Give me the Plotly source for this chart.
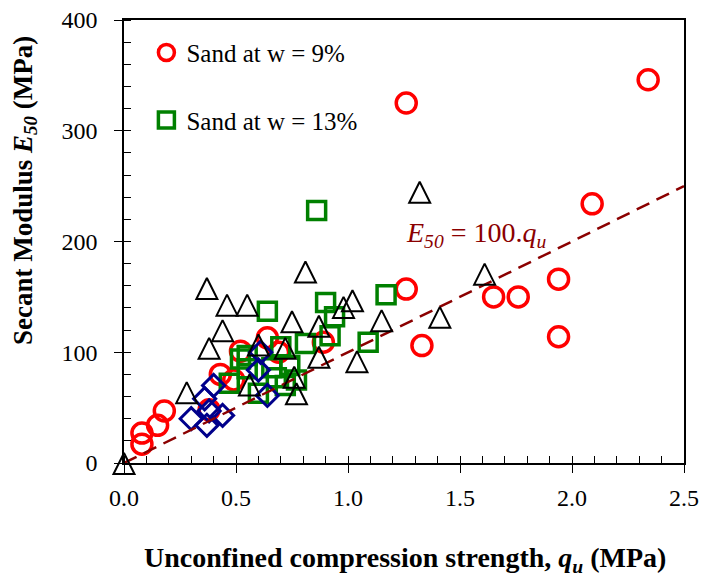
import plotly.graph_objects as go

# ---- data ----
sand9_qu = [0.08, 0.08, 0.15, 0.18, 0.38, 0.43, 0.49, 0.52, 0.64, 0.69, 0.89,
            1.26, 1.26, 1.33, 1.65, 1.76, 1.94, 1.94, 2.09, 2.34]
sand9_E = [27, 17, 34, 47, 48, 80, 75, 101, 113, 100, 109,
           157, 325, 106, 150, 150, 166, 114, 234, 346]

sand13_qu = [0.47, 0.52, 0.55, 0.55, 0.60, 0.64, 0.66, 0.68, 0.70, 0.72, 0.74,
             0.77, 0.81, 0.86, 0.90, 0.92, 0.94, 1.09, 1.17]
sand13_E = [72, 94, 85, 97, 63, 137, 86, 77, 105, 70, 88,
            75, 108, 228, 145, 115, 132, 109, 152]

other_qu = [0.0, 0.28, 0.37, 0.38, 0.44, 0.46, 0.55, 0.56, 0.60, 0.72, 0.75, 0.76,
            0.77, 0.81, 0.87, 0.87, 0.98, 1.02, 1.04, 1.15, 1.32, 1.41, 1.61]
other_E = [0, 64, 158, 104, 120, 143, 143, 71, 107, 104, 128, 78,
           63, 173, 124, 96, 141, 147, 92, 129, 245, 132, 171]

clay_qu = [0.30, 0.36, 0.37, 0.38, 0.40, 0.44, 0.60, 0.61, 0.64]
clay_E = [40, 58, 34, 47, 70, 43, 84, 100, 61]

fit_slope = 100
fit_qu = [0.0, 2.5]
fit_E = [fit_slope * q for q in fit_qu]

x_tickvals = [0.0, 0.5, 1.0, 1.5, 2.0, 2.5]
x_ticktext = ["0.0", "0.5", "1.0", "1.5", "2.0", "2.5"]
y_tickvals = [0, 100, 200, 300, 400]

SERIF = "Liberation Serif"
DARKRED = "#8B0000"

fig = go.Figure()

fig.add_trace(go.Scatter(
    x=sand9_qu, y=sand9_E, mode="markers", name="Sand at w = 9%",
    legendgroup="g1",
    marker=dict(symbol="circle-open", size=20, color="#FF0000",
                line=dict(width=3.5, color="#FF0000")),
    cliponaxis=False))

fig.add_trace(go.Scatter(
    x=sand13_qu, y=sand13_E, mode="markers", name="Sand at w = 13%",
    legendgroup="g2",
    marker=dict(symbol="square-open", size=18, color="#008000",
                line=dict(width=3.5, color="#008000")),
    cliponaxis=False))

fig.add_trace(go.Scatter(
    x=other_qu, y=other_E, mode="markers", name="Other",
    showlegend=False, yaxis="y2",
    marker=dict(symbol="arrow-up-open", size=21, color="black",
                line=dict(width=2, color="black")),
    cliponaxis=False))

fig.add_trace(go.Scatter(
    x=clay_qu, y=clay_E, mode="markers", name="Other 2",
    showlegend=False,
    marker=dict(symbol="diamond-open", size=17, color="#00008B",
                line=dict(width=3, color="#00008B")),
    cliponaxis=False))

fig.add_trace(go.Scatter(
    x=fit_qu, y=fit_E, mode="lines", showlegend=False, name="fit",
    line=dict(color=DARKRED, width=2.5, dash="14px,8px"),
    cliponaxis=False))

fig.add_annotation(
    x=1.575, y=206, xref="x", yref="y",
    text="<i>E</i><sub><i>50</i></sub> = 100.<i>q</i><sub><i>u</i></sub>",
    showarrow=False, font=dict(family=SERIF, size=28, color=DARKRED))

fig.add_annotation(
    x=-0.177, xref="paper", y=0.616, yref="paper",
    xanchor="center", yanchor="middle",
    text="<b>Secant Modulus <i>E</i><sub><i>50</i></sub> (MPa)</b>",
    textangle=-90, showarrow=False,
    font=dict(family=SERIF, size=27, color="black"))

fig.add_annotation(
    x=0.502, xref="paper", y=-0.218, yref="paper",
    xanchor="center", yanchor="middle",
    text="<b>Unconfined compression strength, <i>q</i><sub><i>u</i></sub> (MPa)</b>",
    showarrow=False, font=dict(family=SERIF, size=28, color="black"))

axis_common = dict(showgrid=False, zeroline=False, showline=True, linecolor="black",
                   linewidth=1.5, mirror=True, ticks="outside", ticklen=8,
                   tickcolor="black", tickwidth=1.2, automargin=False,
                   tickfont=dict(family=SERIF, size=24, color="black"))

fig.update_layout(
    width=702, height=581,
    margin=dict(l=124, r=18, t=20, b=118),
    paper_bgcolor="white", plot_bgcolor="white",
    font=dict(family=SERIF, color="black"),
    xaxis=dict(range=[0, 2.5], tickvals=x_tickvals, ticktext=x_ticktext,
               minor=dict(dtick=0.1, ticks="inside", ticklen=7, tickcolor="black",
                          tickwidth=1.2, showgrid=False),
               ticklabelstandoff=4, **axis_common),
    yaxis=dict(range=[0, 400], tickvals=y_tickvals,
               minor=dict(dtick=20, ticks="inside", ticklen=7, tickcolor="black",
                          tickwidth=1.2, showgrid=False),
               ticklabelstandoff=12, **axis_common),
    yaxis2=dict(range=[-9, 391], overlaying="y", visible=False, automargin=False),
    showlegend=True,
    legend=dict(x=0.04, y=0.978, xanchor="left", yanchor="top",
                bgcolor="rgba(0,0,0,0)", tracegroupgap=32, traceorder="grouped",
                itemwidth=30,
                font=dict(family=SERIF, size=25, color="black")),
)

fig.write_html("out.html")
